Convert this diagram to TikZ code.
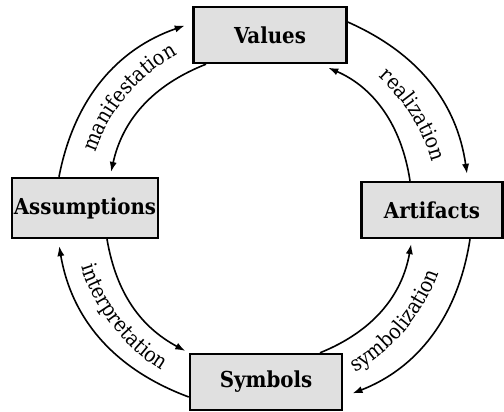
\documentclass[tikz,border=0pt]{standalone}
\usepackage{fontspec}
\usepackage{tikz}
\usetikzlibrary{calc,arrows.meta,decorations.text}
\newfontfamily\boitefont{DejaVu Serif Condensed}
\newfontfamily\textefont{DejaVu Serif Condensed}
\newcommand\policeetiq{\textefont\fontsize{10.5}{12}\selectfont}

\begin{document}
\begin{tikzpicture}[x=0.5pt,y=0.5pt,>={Latex[length=5pt,width=3.6pt]},
    boite/.style={draw=black,line width=1.2pt,fill=black!12,minimum height=28pt,inner sep=0pt,
        font=\boitefont\bfseries\fontsize{11}{13}\selectfont},
    fleche/.style={->,line width=0.8pt},
    etiquette/.style={decorate,decoration={text along path,text align=center,text={|\policeetiq|#1}}}]

        % Cadre de l'image
        \useasboundingbox (0,0) rectangle (504,412);

        % Centre du cercle
        \coordinate (O) at (262,203);

        % Les quatre boites
        \node[boite,minimum width=76.5pt] (valeurs) at (270,377) {Values};
        \node[boite,minimum width=73pt,minimum height=30pt] (hypotheses) at (85,204) {Assumptions};
        \node[boite,minimum width=70.5pt] (artefacts) at (432,202) {Artifacts};
        \node[boite,minimum width=76pt] (symboles) at (266,30) {Symbols};

        % Fleches exterieures (sens horaire)
        \draw[fleche,shorten >=4pt] ([xshift=-13pt]hypotheses.north) to[bend left=30] ([yshift=6pt]valeurs.west);
        \draw[fleche,shorten >=3.5pt] ([yshift=6.5pt]valeurs.east) to[bend left=29] ([xshift=18pt]artefacts.north);
        \draw[fleche,shorten >=5pt] ([xshift=19pt]artefacts.south) to[bend left=30] ([yshift=-7.5pt]symboles.east);
        \draw[fleche,shorten >=3.5pt] ([yshift=-7.5pt]symboles.west) to[bend left=30] ([xshift=-13.5pt]hypotheses.south);

        % Fleches interieures (sens inverse)
        \draw[fleche,shorten >=2.5pt] ([xshift=-32pt]valeurs.south) to[bend right=28] ([xshift=12.5pt]hypotheses.north);
        \draw[fleche,shorten >=4.5pt] ([xshift=-11pt]artefacts.north) to[bend right=29] ([xshift=25pt]valeurs.south);
        \draw[fleche,shorten >=2.5pt] ([xshift=27pt]symboles.north) to[bend right=29] ([xshift=-10pt]artefacts.south);
        \draw[fleche,shorten >=2pt] ([xshift=11pt]hypotheses.south) to[bend right=26] (symboles.north west);

        % Textes le long des arcs
        \path[etiquette=manifestation] ($(O)+(175:176)$) arc[start angle=175,end angle=105,radius=176];
        \path[etiquette=realization] ($(O)+(67:176)$) arc[start angle=67,end angle=-3,radius=176];
        \path[etiquette=symbolization] ($(O)+(-75:188)$) arc[start angle=-75,end angle=-5,radius=188];
        \path[etiquette=interpretation] ($(O)+(183:190)$) arc[start angle=183,end angle=253,radius=190];
    \end{tikzpicture}
\end{document}
